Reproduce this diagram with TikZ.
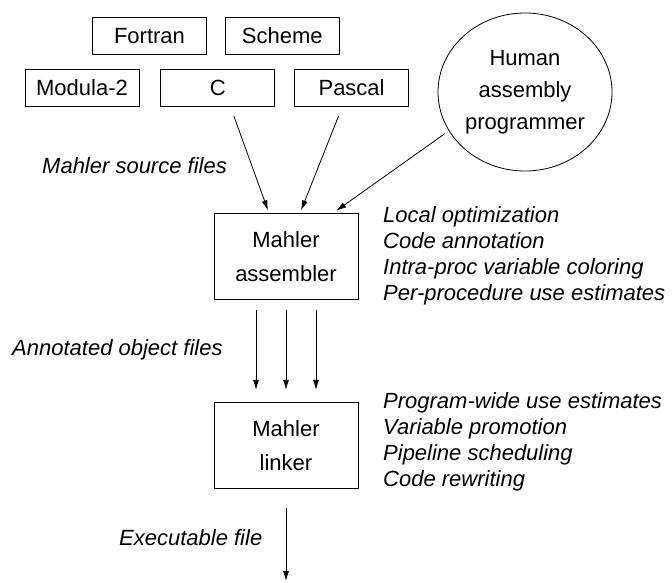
\documentclass[tikz,border=0pt]{standalone}
\usepackage{fontspec}
\setmainfont{Liberation Sans}
\usetikzlibrary{arrows.meta, positioning, shapes.geometric}

\begin{document}
\begin{tikzpicture}[
    x=1pt, y=-1pt,
    node distance=18pt and 18pt,
    lang/.style={draw, line width=0.8pt, minimum width=114pt, minimum height=37pt, inner sep=0pt, font=\fontsize{22}{26}\selectfont},
    tool/.style={draw, line width=0.8pt, minimum width=144pt, minimum height=86pt, align=center, inner sep=0pt, font=\fontsize{22}{34}\selectfont},
    note/.style={inner sep=0pt, align=left, font=\fontsize{22}{26}\selectfont\itshape},
    arrow/.style={-{Latex[length=10pt,width=6pt]}, line width=0.8pt}
]
    \useasboundingbox (0,0) rectangle (672,582);

    % Nodes
    \node (fortran) [lang] at (149.5,36) {Fortran};
    \node (scheme) [lang, right=18pt of fortran] {Scheme};
    \node (modula) [lang] at (82,88) {Modula-2};
    \node (c) [lang, right=21pt of modula] {C};
    \node (pascal) [lang, right=19pt of c] {Pascal};
    \node (human) [draw, ellipse, line width=0.8pt, minimum width=174pt, minimum height=158pt, align=center, inner sep=0pt, font=\fontsize{22}{32}\selectfont] at (525,92) {Human\\assembly\\programmer};

    \node (assembler) [tool] at (286,256.5) {Mahler\\assembler};
    \node (linker) [tool, below=102pt of assembler] {Mahler\\linker};
    \coordinate (out) at (286,581);

    % Notes
    \node (asmnotes) [note, anchor=north west] at (383,206) {Local optimization\\Code annotation\\Intra-proc variable coloring\\Per-procedure use estimates};
    \node (lnknotes) [note, anchor=north west] at (383,392) {Program-wide use estimates\\Variable promotion\\Pipeline scheduling\\Code rewriting};
    \node (srclabel) [note, anchor=base west] at (42,173) {Mahler source files};
    \node (objlabel) [note, anchor=base west] at (12,355) {Annotated object files};
    \node (exelabel) [note, anchor=base west] at (119,545) {Executable file};

    % Edges
    \draw [arrow, shorten >=3pt] ([xshift=16pt,yshift=-9pt]c.south) -- ([xshift=-17pt]assembler.north);
    \draw [arrow, shorten >=3pt] ([xshift=-13pt,yshift=-9pt]pascal.south) -- ([xshift=14pt]assembler.north);
    \draw [arrow, shorten <=5pt, shorten >=4pt] (human.207) -- ([xshift=47pt]assembler.north);
    \draw [arrow, shorten <=10pt, shorten >=12pt] ([xshift=-30pt]assembler.south) -- ([xshift=-30pt]linker.north);
    \draw [arrow, shorten <=10pt, shorten >=12pt] (assembler) -- (linker);
    \draw [arrow, shorten <=10pt, shorten >=12pt] ([xshift=30pt]assembler.south) -- ([xshift=30pt]linker.north);
    \draw [arrow, shorten <=19pt] (linker) -- (out);
\end{tikzpicture}
\end{document}
